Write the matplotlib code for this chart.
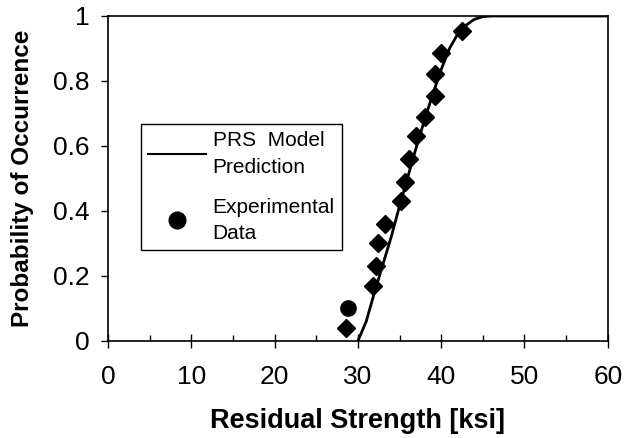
import matplotlib.pyplot as plt
from matplotlib.lines import Line2D
from matplotlib.ticker import MultipleLocator

plt.rcParams['font.family'] = ['Liberation Sans', 'DejaVu Sans']

# PRS model prediction curve
model_x = [30, 31, 32, 33, 34, 35, 36, 37, 38, 39, 40, 41, 42, 43, 44, 45, 46, 47, 60]
model_y = [0, 0.06, 0.15, 0.235, 0.32, 0.415, 0.505, 0.595, 0.68, 0.76, 0.835,
           0.9, 0.945, 0.972, 0.99, 0.998, 1.0, 1.0, 1.0]

# experimental data
exp_x = [28.6, 31.8, 32.2, 32.4, 33.3, 35.2, 35.6, 36.1, 37.0, 38.0, 39.3, 39.3, 40.0, 42.5]
exp_y = [0.04, 0.17, 0.23, 0.30, 0.36, 0.43, 0.49, 0.56, 0.63, 0.69, 0.755, 0.82, 0.885, 0.955]
odd_x = [28.8]
odd_y = [0.10]

fig = plt.figure(figsize=(6.24, 4.38), dpi=100)
ax = fig.add_axes([0.173, 0.2215, 0.801, 0.742])

ax.plot(model_x, model_y, color='black', lw=2)
ax.plot(exp_x, exp_y, 'D', color='black', ms=9)
ax.plot(odd_x, odd_y, 'o', color='black', ms=11)

ax.set_xlim(0, 60)
ax.set_ylim(0, 1)
ax.xaxis.set_major_locator(MultipleLocator(10))
ax.xaxis.set_minor_locator(MultipleLocator(5))
ax.set_yticks([0, 0.2, 0.4, 0.6, 0.8, 1.0])
ax.set_yticklabels(['0', '0.2', '0.4', '0.6', '0.8', '1'])
ax.tick_params(axis='x', which='major', direction='inout', length=10, width=1, labelsize=19, pad=12)
ax.tick_params(axis='x', which='minor', direction='in', length=4, width=1)
ax.tick_params(axis='y', which='major', direction='out', length=5, width=1, labelsize=19, pad=8)
for s in ax.spines.values():
    s.set_linewidth(1.2)

ax.set_xlabel('Residual Strength [ksi]', fontsize=19.5, fontweight='bold', labelpad=14)
ax.set_ylabel('Probability of Occurrence', fontsize=17.5, fontweight='bold', labelpad=14)

handles = [Line2D([0], [0], color='black', lw=1.5),
           Line2D([0], [0], ls='none', marker='o', color='black', ms=12)]
leg = ax.legend(handles, ['PRS  Model\nPrediction', 'Experimental\nData'],
                loc='upper left', bbox_to_anchor=(0.045, 0.70), fontsize=15,
                fancybox=False, edgecolor='black', framealpha=1,
                handlelength=2.8, handletextpad=0.3, labelspacing=1.0,
                borderpad=0.35)
for t in leg.get_texts():
    t.set_linespacing(1.5)
leg.get_frame().set_linewidth(1)

fig.savefig('out.png', dpi=100)
